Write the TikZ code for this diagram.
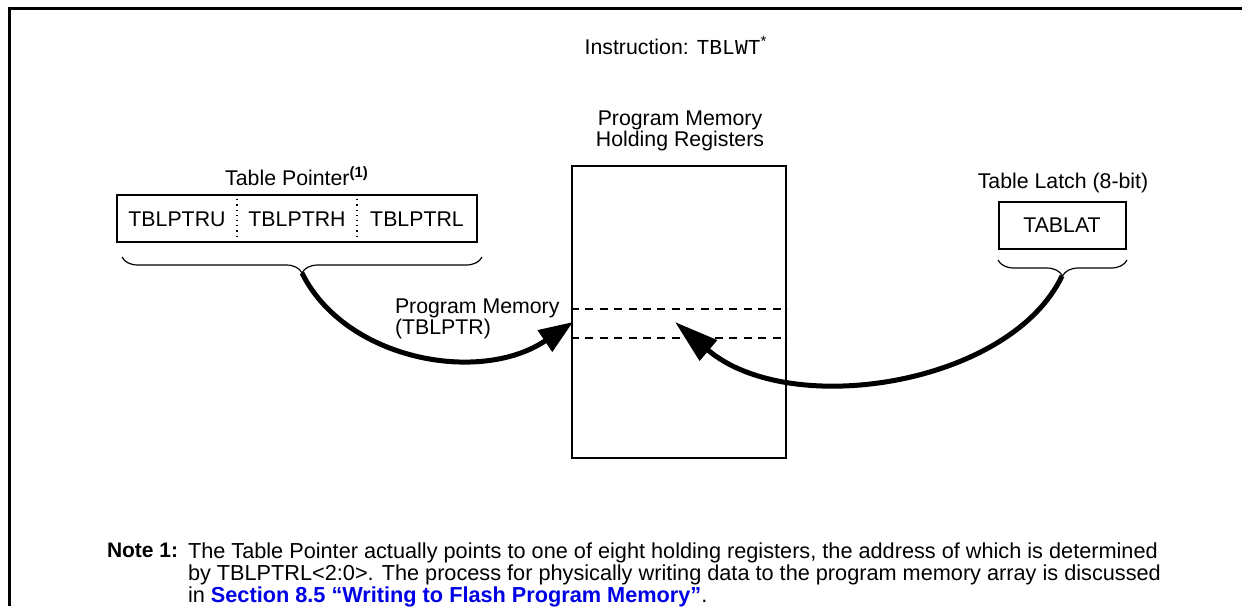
\documentclass[tikz,border=0pt]{standalone}
\usepackage{fontspec}
\setmainfont{Liberation Sans}
\setmonofont{Liberation Mono}
\usetikzlibrary{arrows.meta,decorations.pathreplacing}
\definecolor{linkblue}{RGB}{0,0,230}
\begin{document}
\begin{tikzpicture}[x=0.5pt,y=-0.5pt,
  every node/.style={inner sep=0pt,outer sep=0pt,font=\fontsize{10.65}{10.8}\selectfont},
  regbox/.style={draw,line width=1pt},
  divider/.style={line width=0.6pt,dotted},
  hold/.style={line width=1pt,dash pattern=on 4pt off 3.2pt},
  bracestyle/.style={line width=0.6pt,decorate,decoration={brace,amplitude=8pt}},
  bigarrow/.style={line width=2.5pt},
  notetext/.style={font=\fontsize{10.85}{11}\selectfont,anchor=north west,align=left}]
\useasboundingbox (0,0) rectangle (1242,606);
% frame
\draw[line width=1.5pt] (9,606) -- (9,8) -- (1242,8);
% title
\node (title) at (676,45) {Instruction: \texttt{TBLWT}\textsuperscript{*}};
% holding registers
\node[align=center] (holdlbl) at (680,131) {Program Memory\\Holding Registers};
\node[regbox,minimum width=107pt,minimum height=146pt,anchor=north west] (holdrect) at (571.5,165.5) {};
\coordinate (hl1) at (571,309);
\coordinate (hr1) at (787,309);
\coordinate (hl2) at (571,338);
\coordinate (hr2) at (787,338);
\draw[hold] (hl1) -- (hr1);
\draw[hold] (hl2) -- (hr2);
% table pointer
\node (tplbl) at (297,176) {Table Pointer\textsuperscript{\textbf{(1)}}};
\node[regbox,minimum width=180pt,minimum height=23.5pt,anchor=north west] (tpbox) at (116.5,194.5) {};
\draw[divider] (237,194) -- (237,243);
\draw[divider] (357,194) -- (357,243);
\node (tpu) at (177,219) {TBLPTRU};
\node (tph) at (297,219) {TBLPTRH};
\node (tpl) at (417,219) {TBLPTRL};
\draw[bracestyle] (482,257) -- (122,257);
\coordinate (tptip) at (302,273);
% table latch
\node (tllbl) at (1063,183) {Table Latch (8-bit)};
\node[regbox,minimum width=63.5pt,minimum height=23.5pt,anchor=north west] (tlbox) at (998.5,201.5) {};
\node (tablat) at (1062,225) {TABLAT};
\draw[bracestyle] (1127,260) -- (998,260);
\coordinate (tltip) at (1062,276);
% labels
\node[anchor=west,align=left] (pmlbl) at (395,319) {Program Memory\\(TBLPTR)};
% arrows
\coordinate (tip1) at (573,322);
\coordinate (tip2) at (675,322);
\draw[bigarrow,-{Triangle[length=17pt,width=12.5pt]}] (tptip) .. controls (345,360) and (480,385) .. (tip1);
\draw[bigarrow,-{Triangle[length=22pt,width=13pt]}] (tltip) .. controls (1010,385) and (790,420) .. (tip2);
% note
\node[notetext,font=\bfseries\fontsize{10.5}{11}\selectfont] (notehd) at (107,543) {Note 1:};
\node[notetext] (notebody) at (188,543) {The Table Pointer actually points to one of eight holding registers, the address of which is determined\\
by TBLPTRL<2:0>. The process for physically writing data to the program memory array is discussed\\
in \textcolor{linkblue}{\bfseries Section 8.5 “Writing to Flash Program Memory”}.};
\end{tikzpicture}
\end{document}
